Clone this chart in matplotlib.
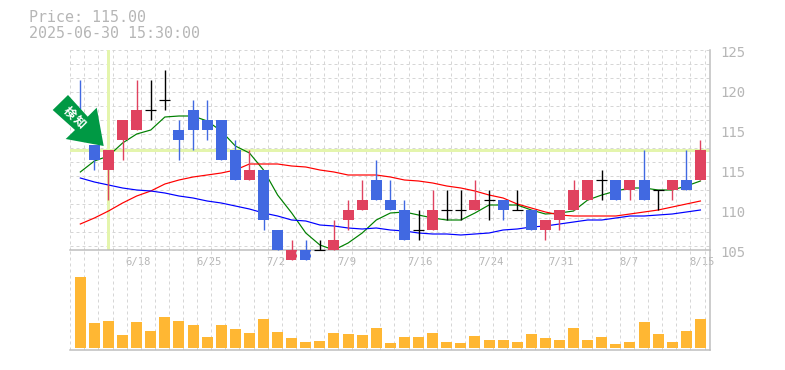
import matplotlib
matplotlib.use('Agg')
import matplotlib.pyplot as plt
from matplotlib.patches import Polygon
from matplotlib.transforms import IdentityTransform
import numpy as np

W, H = 785, 370

# open, close, high, low per session
opens = [118, 115.5, 113, 116, 117, 119, 120, 117, 119, 118, 118, 115, 112, 113, 107,
         104, 105, 105, 105, 108, 109, 112, 110, 109, 107, 107, 109, 109, 109, 110,
         110, 109, 109, 107, 108, 109, 110, 112, 112, 111, 112, 111, 111, 112, 112]
closes = [116, 114, 115, 118, 119, 119, 120, 116, 117, 117, 114, 112, 113, 108, 105,
          105, 104, 105, 106, 109, 110, 110, 109, 106, 107, 109, 109, 109, 110, 110,
          109, 109, 107, 108, 109, 111, 112, 112, 110, 112, 110, 111, 112, 111, 115]
highs = [122, 115.5, 115, 118, 122, 122, 123, 118, 120, 120, 118, 116, 115, 113, 107,
         106, 106, 106, 108, 110, 112, 114, 112, 110, 109, 111, 111, 111, 112, 111,
         110, 111, 109, 108, 109, 112, 112, 113, 112, 112, 115, 111, 112, 115, 116]
lows = [116, 113, 110, 114, 117, 118, 119, 114, 115, 116, 114, 112, 112, 107, 105,
        104, 104, 105, 105, 107, 109, 110, 109, 106, 106, 107, 108, 108, 109, 108,
        108, 109, 107, 106, 107, 109, 110, 110, 110, 110, 110, 109, 110, 111, 112]

ma_short = [112.8, 113.9, 114.4, 115.7, 116.6, 117, 118.3, 118.4, 118.4, 117.9, 116.9, 115.4, 114.7, 113, 110.5,
            108.7, 106.7, 105.5, 105, 105.7, 106.7, 108, 108.7, 108.8, 108.5, 108.2, 108, 108, 108.7, 109.5,
            109.5, 109.5, 109, 108.6, 108.7, 108.9, 110, 110.5, 110.9, 111.2, 111.2, 111, 111, 111.4, 111.9]
ma_mid = [107.6, 108.2, 108.9, 109.7, 110.4, 110.9, 111.6, 112, 112.3, 112.5, 112.7, 113, 113.6, 113.6, 113.6,
          113.4, 113.3, 113, 112.8, 112.5, 112.5, 112.5, 112.3, 112, 111.9, 111.7, 111.4, 111.2, 110.9, 110.5,
          110.2, 109.6, 109.2, 108.8, 108.5, 108.4, 108.4, 108.4, 108.4, 108.6, 108.8, 109, 109.3, 109.6, 109.9]
ma_long = [112.2, 111.8, 111.5, 111.2, 111, 110.9, 110.7, 110.4, 110.2, 109.9, 109.7, 109.4, 109.1, 108.7, 108.4,
           108, 107.9, 107.5, 107.4, 107.2, 107.1, 107.2, 107, 106.9, 106.7, 106.6, 106.6, 106.5, 106.6, 106.7,
           107, 107.1, 107.3, 107.4, 107.6, 107.8, 108, 108, 108.2, 108.4, 108.4, 108.5, 108.6, 108.8, 109]

volumes = [71, 25, 27, 13, 26, 17, 31, 27, 23, 11, 23, 19, 15, 29, 16, 10, 6, 7, 15, 14, 13, 20, 5,
           11, 11, 15, 6, 5, 12, 8, 8, 6, 14, 10, 8, 20, 8, 11, 4, 6, 26, 14, 6, 17, 29]

date_pos = [4, 9, 14, 19, 24, 29, 34, 39, 44]
date_labels = ['6/18', '6/25', '7/2', '7/9', '7/16', '7/24', '7/31', '8/7', '8/15']
price_ticks = [125, 121, 117, 113, 109, 105]
price_labels = ['125', '120', '115', '115', '110', '105']
current_price = 115.0
marker_pos = 2

UP = '#E0425F'
DOWN = '#4169E1'
GRAY = '#BDBDBD'
TEXT = '#B6B6B6'
GRID = '#D6D6D6'
MONO = 'DejaVu Sans Mono'
CJK = ['Noto Sans CJK JP', 'DejaVu Sans']


def style_axis(ax):
    ax.set_xlim(-0.71, 44.7)
    ax.set_xticks(np.arange(-0.71, 44.7, 1))
    ax.tick_params(length=0, labelbottom=False, labelleft=False)
    ax.grid(True, axis='x', color=GRID, lw=1, ls=(0, (3, 3)))
    ax.set_axisbelow(True)
    ax.spines['top'].set_visible(False)
    ax.spines['left'].set_visible(False)
    ax.spines['right'].set_color(GRAY)
    ax.spines['bottom'].set_color(GRAY)
    ax.spines['right'].set_linewidth(1.5)
    ax.spines['bottom'].set_linewidth(1.5)
    ax.patch.set_alpha(0)


def draw_candles(ax):
    x = np.arange(len(opens))
    for i in x:
        if closes[i] > opens[i]:
            color = UP
        elif closes[i] < opens[i]:
            color = DOWN
        else:
            color = 'black'
        ax.plot([i, i], [lows[i], highs[i]], color=color, lw=1.4, clip_on=False, zorder=4,
                solid_capstyle='butt')
        if color == 'black':
            ax.plot([i - 0.39, i + 0.39], [opens[i], opens[i]], color=color, lw=1.2, zorder=4,
                    clip_on=False, solid_capstyle='butt')
        else:
            ax.bar(i, abs(closes[i] - opens[i]), bottom=min(opens[i], closes[i]), width=0.78,
                   color=color, lw=0, clip_on=False, zorder=4)


fig = plt.figure(figsize=(W / 72, H / 72), dpi=72)
ax = fig.add_axes([70.3 / W, (H - 250) / H, 640 / W, 200 / H])
ax_vol = fig.add_axes([70.3 / W, (H - 350) / H, 640 / W, 100 / H])

style_axis(ax)
style_axis(ax_vol)

# Price panel
ax.set_ylim(105, 125)
ax.set_yticks(np.arange(125, 105, -1.4))
ax.grid(True, axis='y', color=GRID, lw=1, ls=(0, (3, 3)))

ax.axhline(current_price, color='#E4F5AD', lw=3, zorder=2)
ax.axvline(marker_pos, color='#E4F5AD', lw=3, zorder=2)

x = np.arange(len(opens))
ax.plot(x, ma_short, color='#008000', lw=1.2, zorder=3)
ax.plot(x, ma_mid, color='#FF0000', lw=1.2, zorder=3)
ax.plot(x, ma_long, color='#0000FF', lw=1.2, zorder=3)
draw_candles(ax)

for tick, label in zip(price_ticks, price_labels):
    ax.annotate(label, xy=(1, tick), xycoords=('axes fraction', 'data'), xytext=(10, -3),
                textcoords='offset points', color=TEXT, fontsize=14, family=MONO,
                ha='left', va='center')

for pos, label in zip(date_pos, date_labels):
    ax.annotate(label, xy=(pos, 105), xytext=(-11, -12), textcoords='offset points',
                color=TEXT, fontsize=10.5, family=MONO, ha='left', va='center', zorder=6,
                annotation_clip=False)

# Volume panel
ax_vol.set_ylim(-2, 98)
ax_vol.set_yticks([])
ax_vol.bar(x, volumes, width=0.78, color='#FFB733', lw=0, zorder=3)

# Signal arrow, sits over the first candles
arrow_px = [(52.7, 110), (68, 95), (87.7, 116.7), (96.7, 107.7), (103.7, 146), (65.7, 139), (75, 130)]
arrow_xy = [(px, H - py) for px, py in arrow_px]
fig.add_artist(Polygon(arrow_xy, closed=True, facecolor='#009944', edgecolor='none',
                       transform=IdentityTransform(), zorder=10))
fig.text(69 / W, 1 - 113 / H, '検', color='white', fontsize=12, rotation=-45, family=CJK,
         fontweight='bold', ha='center', va='center', zorder=11)
fig.text(79 / W, 1 - 122 / H, '知', color='white', fontsize=12, rotation=-45, family=CJK,
         fontweight='bold', ha='center', va='center', zorder=11)

fig.text(29 / W, 1 - 18 / H, f'Price: {current_price:.2f}', color=TEXT, fontsize=15,
         family=MONO, ha='left', va='center')
fig.text(29 / W, 1 - 33 / H, '2025-06-30 15:30:00', color=TEXT, fontsize=15,
         family=MONO, ha='left', va='center')

fig.savefig('out.png', dpi=72)
